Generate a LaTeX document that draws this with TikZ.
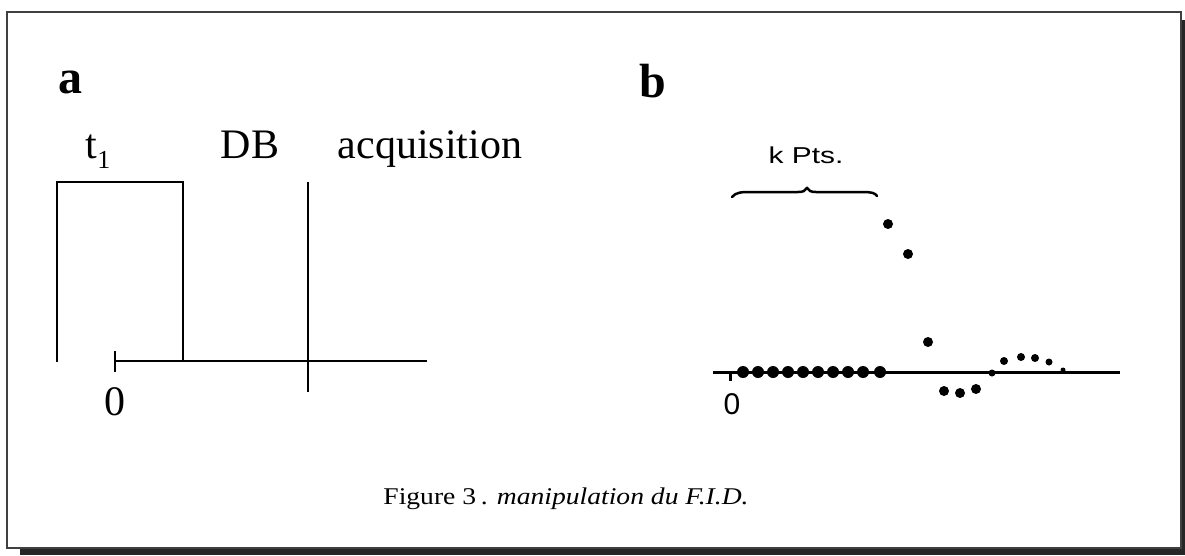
\documentclass[tikz,border=0pt]{standalone}
\usepackage{fontspec}
\setmainfont{Liberation Serif}
\newfontfamily\labsans{Liberation Sans}
\tikzset{
  lbl/.style={inner sep=0pt, anchor=base, font=\fontsize{42}{42}\selectfont},
  panel/.style={inner sep=0pt, anchor=base, font=\bfseries\fontsize{48}{48}\selectfont},
  thinline/.style={line width=2pt},
  thickline/.style={line width=3pt},
  pt/.style={circle, fill=black, inner sep=0pt, minimum size=10pt},
  smallpt/.style={circle, fill=black, inner sep=0pt, minimum size=7pt},
}
\begin{document}
\begin{tikzpicture}[x=1pt,y=-1pt]
\useasboundingbox (0,0) rectangle (1185,555);
% frame and shadow
\fill[black!85] (20,548) rectangle (1185,555);
\fill[black!85] (1181,20) rectangle (1185,555);
\draw[line width=1.5pt, black!75] (7,12) rectangle (1181,548);

% panel labels
\node[panel] (pa) at (70,93) {a};
\node[panel] (pb) at (653,97) {b};

% ---- panel a ----
\node[lbl] (t1) at (98,158) {t\raisebox{-0.25em}{\fontsize{26}{26}\selectfont 1}};
\node[lbl] (db) at (250,158) {DB};
\node[lbl] (acq) at (430,158) {acquisition};
\node[lbl] (zeroa) at (115,415) {0};

\coordinate (pl0) at (57,362);
\coordinate (pl1) at (57,182);
\coordinate (pr1) at (183,182);
\coordinate (pr0) at (183,361);
\draw[thinline] (pl0) -- (pl1) -- (pr1) -- (pr0);
\coordinate (ax0) at (115,361);
\coordinate (ax1) at (427,361);
\draw[thinline] (ax0) -- (ax1);
\coordinate (tk0) at (115,351);
\coordinate (tk1) at (115,372);
\draw[thinline] (tk0) -- (tk1);
\coordinate (ac0) at (308,182);
\coordinate (ac1) at (308,392);
\draw[thinline] (ac0) -- (ac1);

% ---- panel b ----
\coordinate (bx0) at (713,372);
\coordinate (bx1) at (1120,372);
\draw[thickline] (bx0) -- (bx1);
\coordinate (btk0) at (730,372);
\coordinate (btk1) at (730,381);
\draw[thickline] (btk0) -- (btk1);
\node[inner sep=0pt, anchor=base, font=\labsans\fontsize{30}{30}\selectfont] (zerob) at (732,414) {0};

\foreach \x [count=\i] in {743,758,773,788,803,818,833,848,863,880}
  \node[pt, minimum width=12pt, minimum height=9pt] (d\i) at (\x,372) {};
\node[pt] (e1) at (888,224) {};
\node[pt] (e2) at (908,254) {};
\node[pt] (e3) at (928,342) {};
\node[pt] (e4) at (944,391) {};
\node[pt] (e5) at (960,393) {};
\node[pt] (e6) at (976,389) {};
\node[smallpt] (e7) at (992,373) {};
\node[pt, minimum size=8pt] (e8) at (1004,361) {};
\node[pt, minimum size=8pt] (e9) at (1021,357) {};
\node[pt, minimum size=8pt] (e10) at (1035,358) {};
\node[smallpt] (e11) at (1049,362) {};
\node[smallpt, minimum size=5pt] (e12) at (1063,370) {};

% brace
\draw[line width=2.5pt, line cap=round]
  (732,197) .. controls (736,192) and (742,192) .. (752,192)
  -- (798,192) .. controls (803,192) and (805,191) .. (807,188)
  .. controls (809,191) and (811,192) .. (816,192)
  -- (862,192) .. controls (872,192) and (875,193) .. (877,196);
\node[inner sep=0pt, anchor=base, font=\labsans\fontsize{23}{23}\selectfont] (kpts) at (806,163) {\scalebox{1.3}[1]{k Pts.}};

% caption
\node[inner sep=0pt, anchor=base, font=\fontsize{24}{24}\selectfont] (cap) at (566,504) {\scalebox{1.15}[1]{Figure 3\,. \textit{manipulation du F.I.D.}}};
\end{tikzpicture}
\end{document}
